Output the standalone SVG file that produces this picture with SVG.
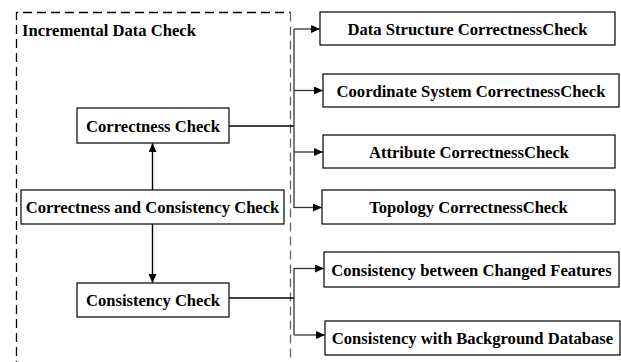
<svg xmlns="http://www.w3.org/2000/svg" width="621" height="362" viewBox="0 0 621 362">
  <style>
    .box { fill: #ffffff; stroke: #000000; stroke-width: 1.2; }
    .lbl { font-family: "Liberation Serif", "Times New Roman", serif; font-weight: bold; font-size: 16.6px; fill: #000000; text-anchor: middle; }
    .title { font-family: "Liberation Serif", "Times New Roman", serif; font-weight: bold; font-size: 16.6px; fill: #000000; }
    .frame { fill: none; stroke: #000000; stroke-width: 1.3; stroke-dasharray: 9 5; }
    .frame-r { fill: none; stroke: #666666; stroke-width: 1.3; stroke-dasharray: 9 5; }
    .wire { fill: none; stroke: #000000; stroke-width: 1.4; }
    .bus { fill: none; stroke: #333333; stroke-width: 1.3; }
  </style>
  <defs>
    <marker id="arr" markerWidth="9" markerHeight="8" refX="8.5" refY="4" orient="auto" markerUnits="userSpaceOnUse">
      <path d="M0,0 L9,4 L0,8 Z" fill="#000000"/>
    </marker>
  </defs>

  <rect width="621" height="362" fill="#ffffff"/>

  <!-- dashed frame of the incremental check module -->
  <g id="frame">
    <path class="frame" d="M16.5,370 L16.5,12.5 L290.5,12.5"/>
    <path class="frame-r" d="M290.5,12.5 L290.5,370"/>
    <text class="title" x="22" y="36">Incremental Data Check</text>
  </g>

  <!-- connectors -->
  <g id="connectors">
    <line class="wire" x1="152.5" y1="190" x2="152.5" y2="143.5" marker-end="url(#arr)"/>
    <line class="wire" x1="152.5" y1="224" x2="152.5" y2="282.5" marker-end="url(#arr)"/>

    <line class="wire" x1="229" y1="126" x2="294" y2="126"/>
    <path class="bus" d="M294,29 L294,208"/>
    <line class="bus" x1="294" y1="29" x2="319.5" y2="29" marker-end="url(#arr)"/>
    <line class="bus" x1="294" y1="90.5" x2="322.5" y2="90.5" marker-end="url(#arr)"/>
    <line class="bus" x1="294" y1="152" x2="322.5" y2="152" marker-end="url(#arr)"/>
    <line class="bus" x1="294" y1="207.5" x2="321.5" y2="207.5" marker-end="url(#arr)"/>

    <line class="wire" x1="229" y1="298" x2="294" y2="298"/>
    <path class="bus" d="M294,268 L294,335"/>
    <line class="bus" x1="294" y1="268.5" x2="323.5" y2="268.5" marker-end="url(#arr)"/>
    <line class="bus" x1="294" y1="335" x2="324.5" y2="335" marker-end="url(#arr)"/>
  </g>

  <g id="correctness">
    <rect class="box" x="77" y="108" width="152" height="35"/>
    <text class="lbl" x="153" y="132">Correctness Check</text>
  </g>

  <g id="both">
    <rect class="box" x="21" y="190" width="263" height="34"/>
    <text class="lbl" x="152.5" y="213">Correctness and Consistency Check</text>
  </g>

  <g id="consistency">
    <rect class="box" x="77" y="283" width="152" height="34"/>
    <text class="lbl" x="153" y="306">Consistency Check</text>
  </g>

  <g id="data-structure">
    <rect class="box" x="320" y="12" width="295" height="33"/>
    <text class="lbl" x="467.5" y="34.5">Data Structure CorrectnessCheck</text>
  </g>

  <g id="coordinate">
    <rect class="box" x="323" y="74" width="296" height="33"/>
    <text class="lbl" x="471" y="96.5">Coordinate System CorrectnessCheck</text>
  </g>

  <g id="attribute">
    <rect class="box" x="323" y="135" width="292" height="33"/>
    <text class="lbl" x="469" y="157.5">Attribute CorrectnessCheck</text>
  </g>

  <g id="topology">
    <rect class="box" x="322" y="190" width="293" height="34"/>
    <text class="lbl" x="468.5" y="213">Topology CorrectnessCheck</text>
  </g>

  <g id="changed-features">
    <rect class="box" x="324" y="252" width="295" height="35"/>
    <text class="lbl" x="471.5" y="275.5">Consistency between Changed Features</text>
  </g>

  <g id="background">
    <rect class="box" x="325" y="321" width="295" height="34"/>
    <text class="lbl" x="472.5" y="344">Consistency with Background Database</text>
  </g>
</svg>
